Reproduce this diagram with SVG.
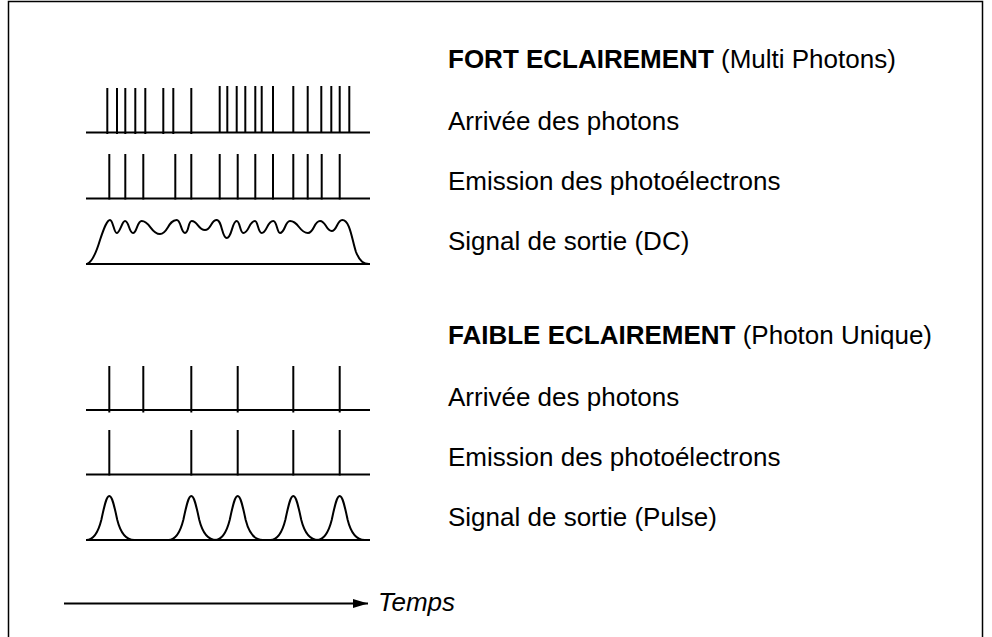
<svg xmlns="http://www.w3.org/2000/svg" width="992" height="637" viewBox="0 0 992 637">
<style>
.ln{stroke:#000;stroke-width:2;fill:none}
.tk{stroke:#000;stroke-width:2}
.t{font-family:"Liberation Sans",Arial,sans-serif;font-size:26px;fill:#000}
.b{font-weight:bold}
.i{font-style:italic}
</style>
<defs>
<marker id="ah" markerWidth="16" markerHeight="10" refX="15" refY="5" orient="auto" markerUnits="userSpaceOnUse">
<polygon points="0,0.5 15,5 0,9.5" fill="#000"/>
</marker>
</defs>
<rect width="992" height="637" fill="#fff"/>
<rect x="8.5" y="1.5" width="974" height="660" fill="none" stroke="#000" stroke-width="1.5"/>

<g id="fort-arrivee">
<line class="ln" x1="86" y1="132.5" x2="370" y2="132.5"/>
<g class="tk">
<line x1="107.3" y1="88" x2="107.3" y2="134"/><line x1="117" y1="88" x2="117" y2="134"/><line x1="125.3" y1="88" x2="125.3" y2="134"/><line x1="135.3" y1="88" x2="135.3" y2="134"/><line x1="145.3" y1="88" x2="145.3" y2="134"/><line x1="163.3" y1="88" x2="163.3" y2="134"/><line x1="173.3" y1="88" x2="173.3" y2="134"/><line x1="191.3" y1="88" x2="191.3" y2="134"/>
<line x1="219.7" y1="86" x2="219.7" y2="132.5"/><line x1="227.3" y1="86" x2="227.3" y2="132.5"/><line x1="236.7" y1="86" x2="236.7" y2="132.5"/><line x1="245.3" y1="86" x2="245.3" y2="132.5"/><line x1="255.3" y1="86" x2="255.3" y2="132.5"/><line x1="261.7" y1="86" x2="261.7" y2="132.5"/><line x1="273" y1="86" x2="273" y2="132.5"/><line x1="293.3" y1="86" x2="293.3" y2="132.5"/><line x1="307.7" y1="86" x2="307.7" y2="132.5"/><line x1="321.3" y1="86" x2="321.3" y2="132.5"/><line x1="331.3" y1="86" x2="331.3" y2="132.5"/><line x1="339.7" y1="86" x2="339.7" y2="132.5"/><line x1="349.3" y1="86" x2="349.3" y2="132.5"/>
</g>
</g>

<g id="fort-emission">
<line class="ln" x1="86" y1="198.5" x2="370" y2="198.5"/>
<g class="tk">
<line x1="109.3" y1="154" x2="109.3" y2="199.5"/><line x1="125.3" y1="154" x2="125.3" y2="199.5"/><line x1="143.3" y1="154" x2="143.3" y2="199.5"/><line x1="175.3" y1="154" x2="175.3" y2="199.5"/><line x1="191.3" y1="154" x2="191.3" y2="199.5"/><line x1="219.7" y1="154" x2="219.7" y2="199.5"/><line x1="237.7" y1="154" x2="237.7" y2="199.5"/><line x1="255.3" y1="154" x2="255.3" y2="199.5"/><line x1="273" y1="154" x2="273" y2="199.5"/><line x1="293.3" y1="154" x2="293.3" y2="199.5"/><line x1="307.7" y1="154" x2="307.7" y2="199.5"/><line x1="321.7" y1="154" x2="321.7" y2="199.5"/><line x1="339.7" y1="154" x2="339.7" y2="199.5"/>
</g>
</g>

<g id="fort-signal">
<line class="ln" x1="86" y1="264" x2="370" y2="264"/>
<path class="ln" d="M87,264 C93,262 97,250 100,240 C104,228 107,220 110,220
C113,220 114,233 116.7,233 C120,233 122,221 125,221 C129,221 129,233 133,233 C137,233 137,221 141.7,221
C150,221 151,234 160,234 C168,234 168,220 176.7,220 C181,220 181,233 185,233 C189,233 188,221 191.7,221
C198,221 198,230 205,230 C211,230 211,220 216.7,220 C222,220 222,238 226.7,238 C232,238 232,221 236.7,221
C240,221 240,233 243.3,233 C249,233 249,221 255,221 C258,221 258,233 261.7,233 C267,233 267,221 273.3,221
C277,221 277,233 280,233 C285,233 285,221 290,221 C299,221 299,233 308,233 C314,233 314,221 320,221
C326,221 326,231 331.7,231 C337,231 337,220 342.3,220 C350,220 352,240 356,252 C360,262 364,264 369,264"/>
</g>

<g id="faible-arrivee">
<line class="ln" x1="86" y1="410" x2="370" y2="410"/>
<g class="tk">
<line x1="109.3" y1="366" x2="109.3" y2="412.5"/><line x1="143.3" y1="366" x2="143.3" y2="412.5"/><line x1="191.3" y1="366" x2="191.3" y2="412.5"/><line x1="237.7" y1="366" x2="237.7" y2="412.5"/><line x1="293.3" y1="366" x2="293.3" y2="412.5"/><line x1="339.7" y1="366" x2="339.7" y2="412.5"/>
</g>
</g>

<g id="faible-emission">
<line class="ln" x1="86" y1="474.5" x2="370" y2="474.5"/>
<g class="tk">
<line x1="109.3" y1="430" x2="109.3" y2="475.5"/><line x1="191.3" y1="430" x2="191.3" y2="475.5"/><line x1="237.7" y1="430" x2="237.7" y2="475.5"/><line x1="293.3" y1="430" x2="293.3" y2="475.5"/><line x1="339.7" y1="430" x2="339.7" y2="475.5"/>
</g>
</g>

<g id="faible-signal">
<line class="ln" x1="86" y1="540" x2="370" y2="540"/>
<path class="ln" d="M86.3,540 C93.3,540 98.3,532 101.3,520 C104.3,506 106.3,496 109.3,496 C112.3,496 114.3,506 117.3,520 C120.3,532 125.3,540 134.3,540"/>
<path class="ln" d="M168.3,540 C175.3,540 180.3,532 183.3,520 C186.3,506 188.3,496 191.3,496 C194.3,496 196.3,506 199.3,520 C202.3,532 207.3,540 216.3,540"/>
<path class="ln" d="M214.7,540 C221.7,540 226.7,532 229.7,520 C232.7,506 234.7,496 237.7,496 C240.7,496 242.7,506 245.7,520 C248.7,532 253.7,540 262.7,540"/>
<path class="ln" d="M270.3,540 C277.3,540 282.3,532 285.3,520 C288.3,506 290.3,496 293.3,496 C296.3,496 298.3,506 301.3,520 C304.3,532 309.3,540 318.3,540"/>
<path class="ln" d="M316.7,540 C323.7,540 328.7,532 331.7,520 C334.7,506 336.7,496 339.7,496 C342.7,496 344.7,506 347.7,520 C350.7,532 355.7,540 364.7,540"/>
</g>

<g id="labels">
<text class="t" x="448" y="68"><tspan class="b">FORT ECLAIREMENT</tspan> (Multi Photons)</text>
<text class="t" x="448" y="130">Arrivée des photons</text>
<text class="t" x="448" y="190">Emission des photoélectrons</text>
<text class="t" x="448" y="250">Signal de sortie (DC)</text>
<text class="t" x="448" y="344"><tspan class="b">FAIBLE ECLAIREMENT</tspan> (Photon Unique)</text>
<text class="t" x="448" y="406">Arrivée des photons</text>
<text class="t" x="448" y="466">Emission des photoélectrons</text>
<text class="t" x="448" y="526">Signal de sortie (Pulse)</text>
</g>

<g id="connectors">
<line class="ln" x1="64" y1="603.5" x2="368" y2="603.5" marker-end="url(#ah)"/>
</g>
<g id="temps">
<text class="t i" x="378" y="611">Temps</text>
</g>
</svg>
